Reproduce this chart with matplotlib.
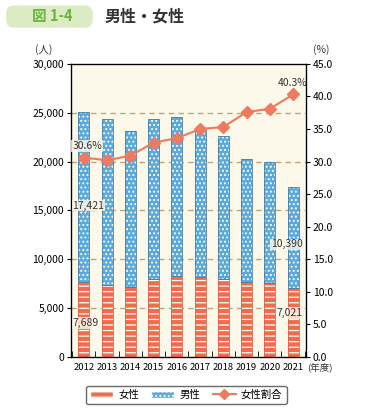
import matplotlib.pyplot as plt
import matplotlib as mpl
from matplotlib.patches import FancyBboxPatch, Patch
from matplotlib.lines import Line2D
import numpy as np

plt.rcParams['font.family'] = ['Noto Sans CJK JP', 'DejaVu Sans']
mpl.rcParams['hatch.linewidth'] = 0.9

years = ['2012', '2013', '2014', '2015', '2016', '2017', '2018', '2019', '2020', '2021']
female = [7689, 7350, 7150, 8010, 8240, 8160, 7980, 7630, 7600, 7021]
male = [17421, 17000, 15980, 16350, 16290, 15140, 14620, 12670, 12350, 10390]
ratio = [30.6, 30.2, 30.9, 32.9, 33.6, 35.0, 35.3, 37.6, 38.1, 40.3]

red = '#ef6c4c'
blue = '#5aa9dd'
line_c = '#ee7a5f'

fig = plt.figure(figsize=(3.8, 4.2), dpi=100)
ax = fig.add_axes([0.187, 0.15, 0.618, 0.698])
ax.set_facecolor('#fdf9ea')
x = np.arange(len(years))
w = 0.47

ax.bar(x, female, w, color=red, edgecolor='white', hatch='---', linewidth=0, zorder=2)
ax.bar(x, female, w, color='none', edgecolor='#d9634a', linewidth=0.6, zorder=3)
ax.bar(x, male, w, bottom=female, color=blue, edgecolor='white', hatch='....', linewidth=0, zorder=2)
ax.bar(x, male, w, bottom=female, color='none', edgecolor='#4f7fa0', linewidth=0.6, zorder=3)

ax.set_ylim(0, 30000)
ax.set_xlim(-0.55, len(years) - 0.45)
ax.set_yticks(range(0, 30001, 5000))
ax.set_yticklabels([f'{v:,}' for v in range(0, 30001, 5000)], fontsize=7.5)
ax.set_xticks(x)
ax.set_xticklabels(years, fontsize=6.8)
ax.tick_params(axis='x', length=0, pad=4)
ax.set_xticks(np.arange(-0.5, len(years)), minor=True)
ax.tick_params(axis='x', which='minor', direction='in', length=4)
ax.tick_params(axis='y', length=3, pad=2)
for v in range(5000, 30000, 5000):
    ax.axhline(v, color='#c0a47c', linestyle=(0, (4, 3)), linewidth=1, zorder=1)
for s in ax.spines.values():
    s.set_linewidth(0.9)

ax2 = ax.twinx()
ax2.plot(x, ratio, color=line_c, marker='D', markersize=6, linewidth=1.5, zorder=5)
ax2.set_ylim(0, 45)
ax2.set_yticks(np.arange(0, 45.1, 5))
ax2.set_yticklabels([f'{v:.1f}' for v in np.arange(0, 45.1, 5)], fontsize=7.5)
ax2.tick_params(axis='y', length=3, pad=2)

box = dict(facecolor='#fdf9ea', edgecolor='none', pad=0.5, alpha=0.8)
ax2.text(-0.5, 31.6, '30.6%', fontsize=7.5, ha='left', va='bottom', color='#333333', bbox=box, zorder=6)
ax2.text(9, 41.3, '40.3%', fontsize=7.5, ha='center', va='bottom', color='#333333', zorder=6)
ax.text(-0.5, female[0] + male[0] / 2 - 900, f'{male[0]:,}', fontsize=7.5, ha='left', va='center', color='#333333', bbox=box, zorder=6)
ax.text(-0.5, 3500, f'{female[0]:,}', fontsize=7.5, ha='left', va='center', color='#333333', bbox=box, zorder=6)
ax.text(9.4, female[9] + male[9] / 2 - 700, f'{male[9]:,}', fontsize=7.5, ha='right', va='center', color='#333333', bbox=box, zorder=6)
ax.text(9.4, 4500, f'{female[9]:,}', fontsize=7.5, ha='right', va='center', color='#333333', bbox=box, zorder=6)

fig.text(0.115, 0.875, '(人)', fontsize=7.5, ha='center', color='#333333')
fig.text(0.845, 0.875, '(%)', fontsize=7.5, ha='center', color='#333333')
fig.text(0.808, 0.138, '(年度)', fontsize=6.8, ha='left', va='top', color='#333333')

# title tab
tab = FancyBboxPatch((0.02, 0.938), 0.22, 0.045, boxstyle='round,pad=0.004,rounding_size=0.02',
                     transform=fig.transFigure, facecolor='#dbecc4', edgecolor='none')
fig.patches.append(tab)
fig.text(0.085, 0.961, '図 1-4', fontsize=10.5, color='#6cb33f', fontweight='bold', va='center')
fig.text(0.275, 0.961, '男性・女性', fontsize=11.5, color='#333333', fontweight='bold', va='center')

handles = [Patch(facecolor=red, edgecolor='white', hatch='---'),
           Patch(facecolor=blue, edgecolor='white', hatch='....'),
           Line2D([], [], color=line_c, marker='D', markersize=5, linewidth=1.5)]
fig.legend(handles, ['女性', '男性', '女性割合'], loc='center', bbox_to_anchor=(0.49, 0.06),
           ncol=3, fontsize=7.5, frameon=True, edgecolor='#444444', fancybox=True,
           handlelength=2.2, columnspacing=1.2, handletextpad=0.5)

fig.savefig('out.png', dpi=100, facecolor='white')
